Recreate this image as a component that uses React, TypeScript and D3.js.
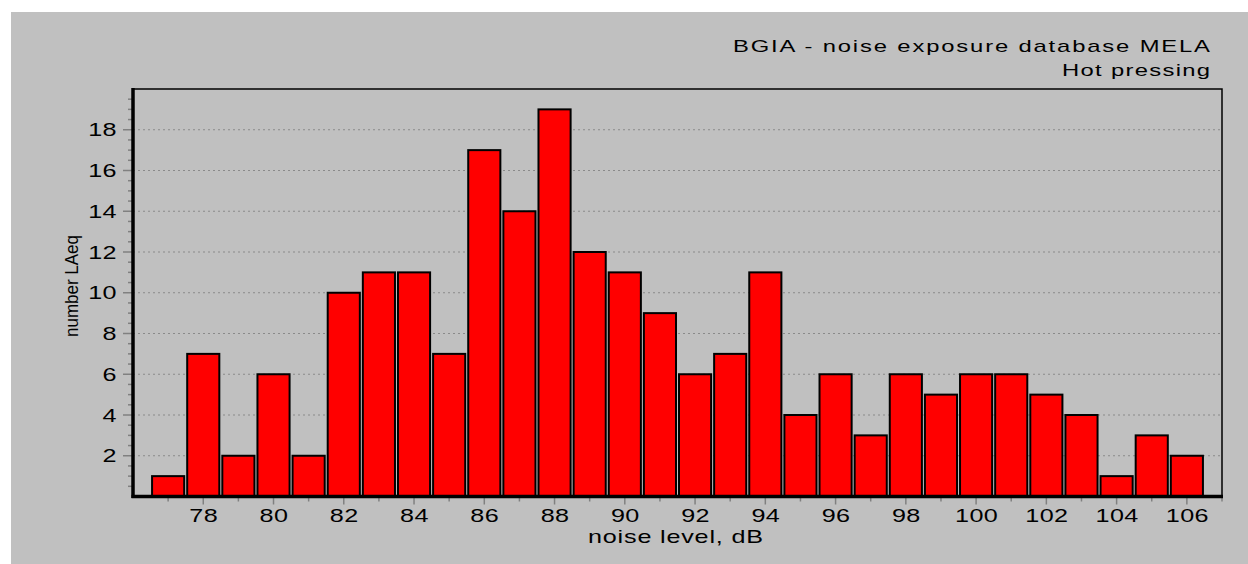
import React, { useEffect, useRef } from "react";
import * as d3 from "d3";

// noise levels (dB) and measurement counts per 1 dB class
const levels = [77, 78, 79, 80, 81, 82, 83, 84, 85, 86, 87, 88, 89, 90, 91, 92, 93, 94, 95, 96, 97, 98, 99, 100, 101, 102, 103, 104, 105, 106];
const counts = [1, 7, 2, 6, 2, 10, 11, 11, 7, 17, 14, 19, 12, 11, 9, 6, 7, 11, 4, 6, 3, 6, 5, 6, 6, 5, 4, 1, 3, 2];
const xTickLabels = [78, 80, 82, 84, 86, 88, 90, 92, 94, 96, 98, 100, 102, 104, 106];
const yTickLabels = [2, 4, 6, 8, 10, 12, 14, 16, 18];
const titleLines = ["BGIA - noise exposure database MELA", "Hot pressing"];

const W = 1248, H = 564;
const margin = { top: 89, right: 26, bottom: 67.5, left: 133 };
const font = "Liberation Sans, Arial, sans-serif";
const SX = 1.4; // the original uses a wide, stretched sans

export default function App() {
  const ref = useRef<SVGSVGElement>(null);

  useEffect(() => {
    const svg = d3.select(ref.current);
    svg.selectAll("*").remove();

    const x = d3.scaleLinear().domain([76, 107]).range([margin.left, W - margin.right]);
    const y = d3.scaleLinear().domain([0, 20]).range([H - margin.bottom, margin.top]);

    // stretched text helper
    const wide = (px, py, str, size, anchor, ls, len?) => {
      const t = svg.append("g").attr("transform", `translate(${px},${py}) scale(${SX},1)`)
        .append("text").attr("text-anchor", anchor)
        .attr("font-family", font).attr("font-size", size).attr("letter-spacing", ls)
        .text(str);
      if (len) t.attr("textLength", len / SX).attr("lengthAdjust", "spacing");
      return t;
    };

    svg.append("rect").attr("x", 11).attr("y", 12).attr("width", W - 11).attr("height", H - 12).attr("fill", "#c0c0c0");

    // titles
    wide(1210, 52, titleLines[0], 17, "end", 0, 477);
    wide(1210, 76, titleLines[1], 17, "end", 0, 148);

    // grid
    svg.append("g").selectAll("line").data(yTickLabels).join("line")
      .attr("x1", x(76)).attr("x2", x(107))
      .attr("y1", d => y(d)).attr("y2", d => y(d))
      .attr("stroke", "#8a8a8a").attr("stroke-width", 1).attr("stroke-dasharray", "2,3");

    // frame (thin top / right)
    svg.append("rect").attr("x", x(76)).attr("y", y(20)).attr("width", x(107) - x(76)).attr("height", y(0) - y(20))
      .attr("fill", "none").attr("stroke", "#000").attr("stroke-width", 1.5);

    // bars
    svg.append("g").selectAll("rect").data(levels).join("rect")
      .attr("x", d => x(d - 0.5) + 1.5)
      .attr("width", d => x(d + 0.5) - x(d - 0.5) - 3)
      .attr("y", (d, i) => y(counts[i]))
      .attr("height", (d, i) => y(0) - y(counts[i]))
      .attr("fill", "#ff0000").attr("stroke", "#000").attr("stroke-width", 2);

    // y ticks
    const yMinor = d3.range(0.5, 20, 0.5).filter(v => v % 2 !== 0);
    svg.append("g").selectAll("line").data(yMinor).join("line")
      .attr("x1", x(76) - 5).attr("x2", x(76)).attr("y1", d => y(d)).attr("y2", d => y(d))
      .attr("stroke", "#808080").attr("stroke-width", 1.5);
    svg.append("g").selectAll("line").data(yTickLabels).join("line")
      .attr("x1", x(76) - 10).attr("x2", x(76)).attr("y1", d => y(d)).attr("y2", d => y(d))
      .attr("stroke", "#808080").attr("stroke-width", 1.5);
    yTickLabels.forEach(d => wide(117, y(d) + 6.5, String(d), 18, "end", 0.3));

    // x ticks
    const xMinor = d3.range(77, 108, 2);
    svg.append("g").selectAll("line").data(xMinor).join("line")
      .attr("x1", d => x(d)).attr("x2", d => x(d)).attr("y1", y(0)).attr("y2", y(0) + 5)
      .attr("stroke", "#808080").attr("stroke-width", 1.5);
    svg.append("g").selectAll("line").data(xTickLabels).join("line")
      .attr("x1", d => x(d)).attr("x2", d => x(d)).attr("y1", y(0)).attr("y2", y(0) + 8)
      .attr("stroke", "#808080").attr("stroke-width", 1.5);
    xTickLabels.forEach(d => wide(x(d) + 0.5, 522, String(d), 18, "middle", 0.3));

    // thick axis lines
    svg.append("line").attr("x1", x(76)).attr("x2", x(76)).attr("y1", y(20) - 1).attr("y2", y(0) + 1.5)
      .attr("stroke", "#000").attr("stroke-width", 3.5);
    svg.append("line").attr("x1", x(76) - 1.5).attr("x2", x(107) + 1).attr("y1", y(0)).attr("y2", y(0))
      .attr("stroke", "#000").attr("stroke-width", 3.5);

    // axis titles
    wide(675.5, 543, "noise level, dB", 18, "middle", 0, 175);
    svg.append("text").attr("transform", "translate(78,286) rotate(-90)").attr("text-anchor", "middle")
      .attr("font-family", font).attr("font-size", 19)
      .attr("textLength", 102).attr("lengthAdjust", "spacingAndGlyphs")
      .text("number LAeq");
  }, []);

  return (
    <svg ref={ref} width={W} height={H} style={{ position: "absolute", left: 0, top: 0, background: "#fff" }} />
  );
}
